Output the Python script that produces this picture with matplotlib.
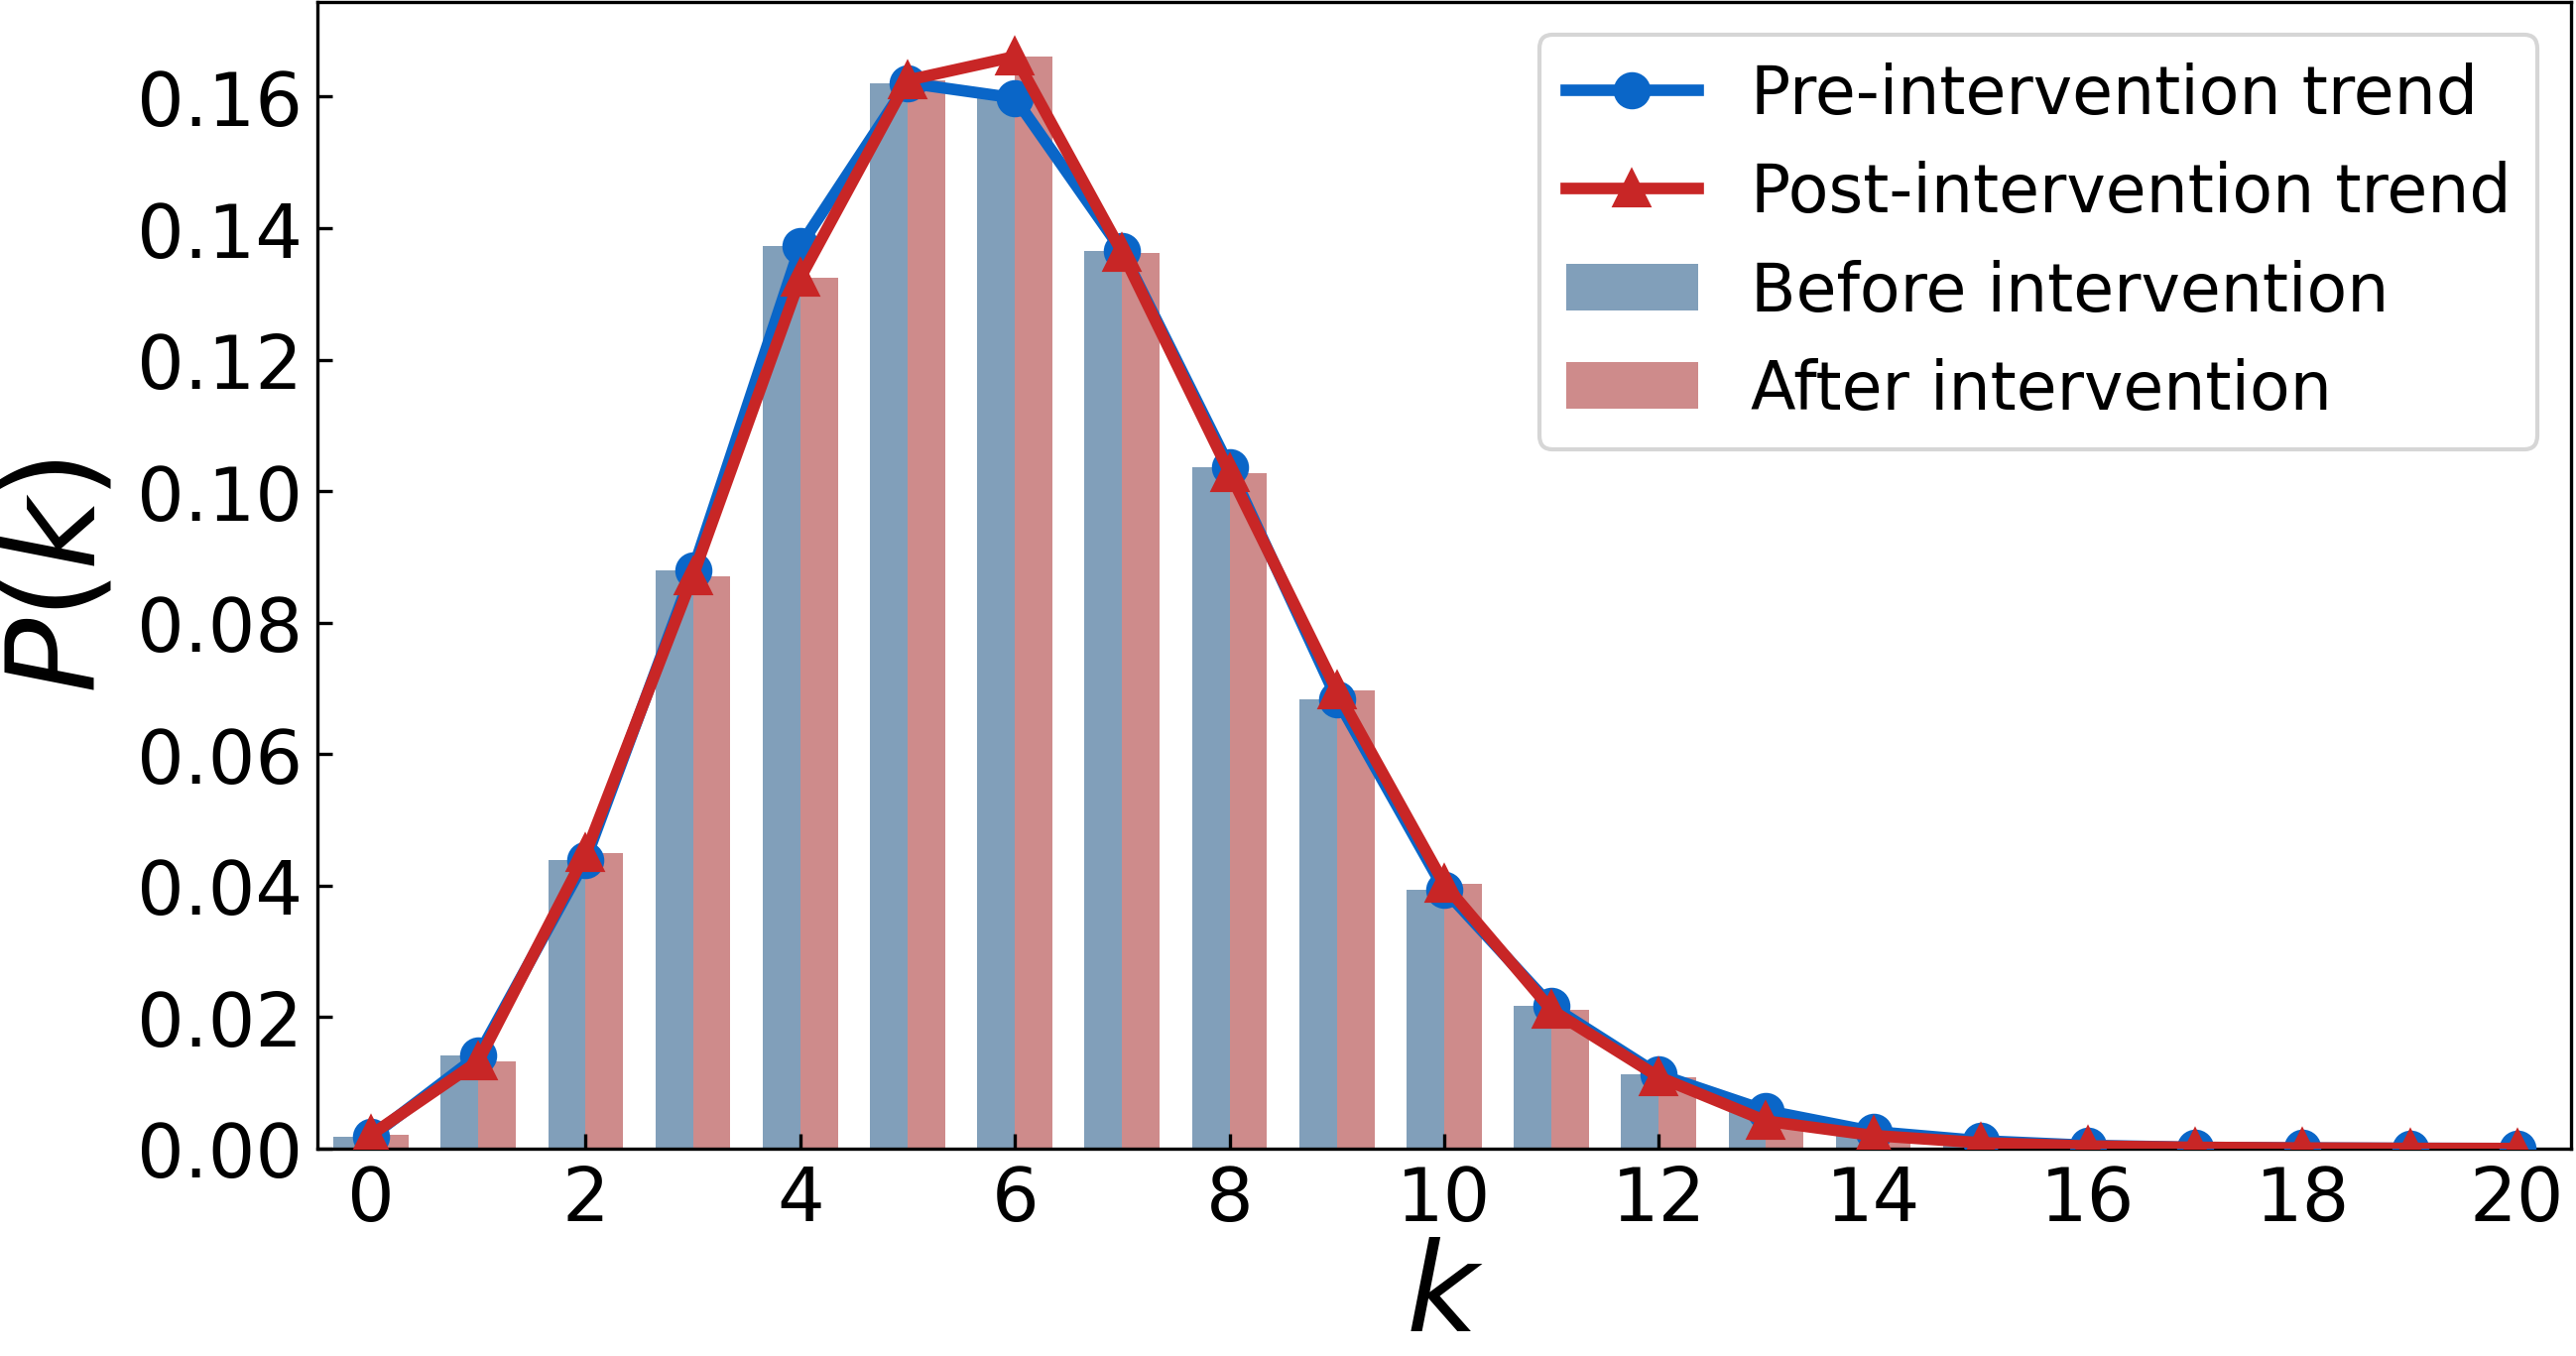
import numpy as np
import matplotlib
matplotlib.use("Agg")
import matplotlib.pyplot as plt

# --- DATA ---
k = np.arange(0, 21)
p_before = [0.0018, 0.0142, 0.0439, 0.0880, 0.1373, 0.1621, 0.1598, 0.1365, 0.1037, 0.0684,
            0.0394, 0.0217, 0.0113, 0.0058, 0.0026, 0.0012, 0.0005, 0.0002, 0.0001, 0.00005, 0.00002]
p_after = [0.0021, 0.0133, 0.0449, 0.0871, 0.1324, 0.1625, 0.1661, 0.1363, 0.1028, 0.0697,
           0.0403, 0.0211, 0.0109, 0.0042, 0.0020, 0.0009, 0.0004, 0.0002, 0.0001, 0.00004, 0.00002]
xticks = list(range(0, 21, 2))

# --- STYLE ---
bar_w = 0.35
c_line_pre = "#0a66c8"
c_line_post = "#c82626"
c_bar_pre = "#819fba"
c_bar_post = "#ce8b8b"

fig = plt.figure(figsize=(2597 / 300, 1368 / 300), dpi=300)
ax = fig.add_axes([0.1232, 0.1528, 0.8748, 0.845])

ax.bar(k - bar_w / 2, p_before, width=bar_w, color=c_bar_pre, label="Before intervention", zorder=1)
ax.bar(k + bar_w / 2, p_after, width=bar_w, color=c_bar_post, label="After intervention", zorder=1)
ax.plot(k, p_before, "-o", color=c_line_pre, lw=2.8, ms=8, label="Pre-intervention trend", zorder=3)
ax.plot(k, p_after, "-^", color=c_line_post, lw=2.8, ms=8, label="Post-intervention trend", zorder=4)

ax.set_xlim(-0.5, 20.5)
ax.set_ylim(0, max(p_after) * 1.05)
ax.set_xticks(xticks)
ax.set_yticks(np.arange(0, 0.17, 0.02))
ax.yaxis.set_major_formatter(matplotlib.ticker.FormatStrFormatter("%.2f"))
ax.tick_params(direction="in", labelsize=18)

ax.set_xlabel("$k$", fontsize=30, labelpad=0)
ax.set_ylabel("$P(k)$", fontsize=30, labelpad=4)
ax.legend(loc="upper right", fontsize=16)

fig.savefig("out.png", dpi=300)
